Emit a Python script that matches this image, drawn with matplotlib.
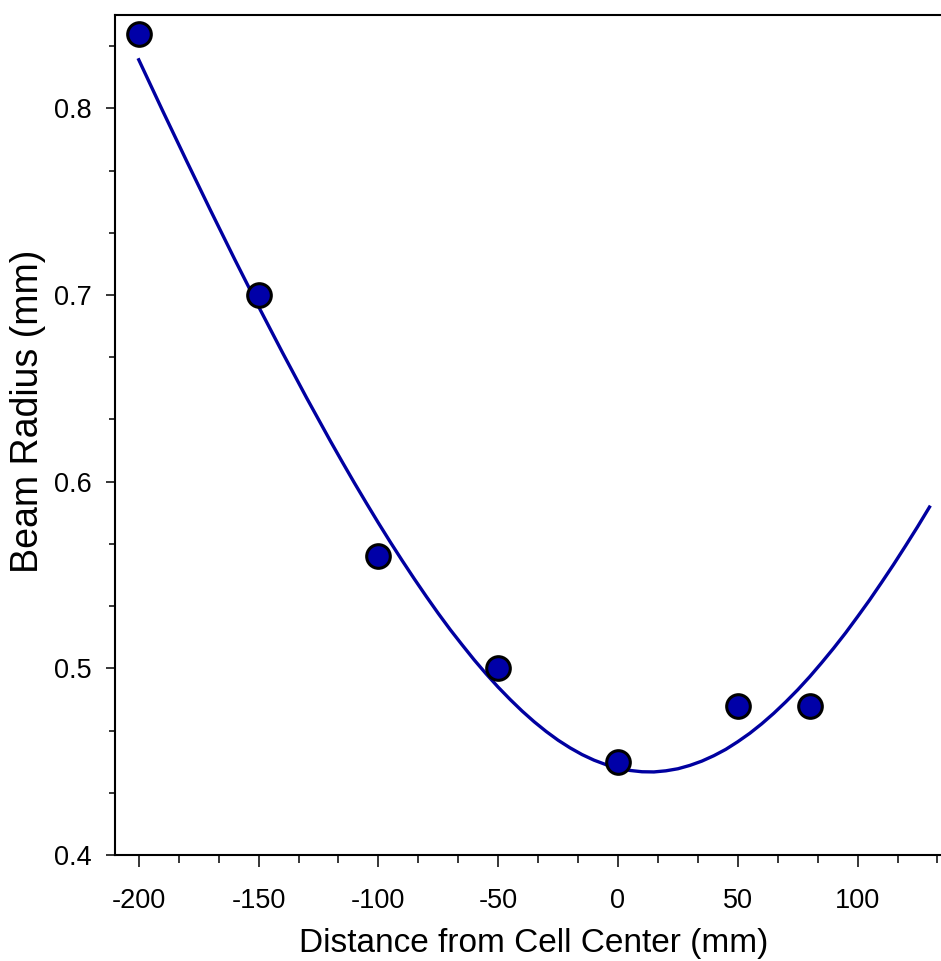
import matplotlib
matplotlib.use("Agg")
import matplotlib.pyplot as plt
from matplotlib.ticker import MultipleLocator, AutoMinorLocator

plt.rcParams['font.family'] = ['Liberation Sans', 'DejaVu Sans']

# Datos medidos
dist = [-200, -150, -100, -50, 0, 50, 80]
radius = [0.84, 0.70, 0.56, 0.50, 0.45, 0.48, 0.48]

# Curva de ajuste
fit_x = [-200, -190, -180, -170, -160, -150, -140, -130, -120,
         -115, -110, -105, -100, -95, -90, -85, -80, -75, -70, -65,
         -60, -55, -50, -45, -40, -35, -30, -25, -20, -15,
         -10, -5, 0, 5, 10, 15, 20, 25, 30, 35,
         40, 45, 50, 55, 60, 65, 70, 75, 80, 85,
         90, 95, 100, 105, 110, 115, 120, 125, 130]
fit_y = [0.8260, 0.7986, 0.7717, 0.7452, 0.7192, 0.6938, 0.6691, 0.6450, 0.6217,
         0.6104, 0.5993, 0.5885, 0.5779, 0.5676, 0.5576, 0.5479, 0.5385, 0.5294, 0.5207, 0.5125,
         0.5045, 0.4970, 0.4899, 0.4833, 0.4771, 0.4714, 0.4662, 0.4615, 0.4574, 0.4538,
         0.4508, 0.4484, 0.4465, 0.4453, 0.4446, 0.4445, 0.4451, 0.4462, 0.4480, 0.4503,
         0.4532, 0.4566, 0.4607, 0.4652, 0.4703, 0.4759, 0.4820, 0.4885, 0.4955, 0.5030,
         0.5108, 0.5190, 0.5277, 0.5366, 0.5460, 0.5556, 0.5656, 0.5758, 0.5864]

fig = plt.figure(figsize=(9.41, 9.61), dpi=100)
ax = fig.add_axes([0.122, 0.1103, 0.9167, 0.8741])

ax.plot(fit_x, fit_y, color='#0000a0', lw=2.4, zorder=2)
ax.plot(dist, radius, 'o', ms=17, mfc='#0000a8', mec='black', mew=2.2, zorder=3)

ax.set_xlim(-210, 150)
ax.set_ylim(0.4, 0.85)

ax.set_xticks([-200, -150, -100, -50, 0, 50, 100])
ax.set_xticklabels(['-200', '-150', '-100', '-50', '0', '50', '100'])
ax.xaxis.set_minor_locator(AutoMinorLocator(3))
ax.yaxis.set_major_locator(MultipleLocator(0.1))
ax.yaxis.set_minor_locator(AutoMinorLocator(3))

ax.tick_params(axis='x', which='major', direction='out', length=8.6, width=1.1, labelsize=19.5, pad=15)
ax.tick_params(axis='x', which='minor', direction='out', length=5.8, width=1.1)
ax.tick_params(axis='y', which='major', direction='out', length=6.5, width=1.1, labelsize=19.5, pad=10)
ax.tick_params(axis='y', which='minor', direction='out', length=4.3, width=1.1)

for s in ['left', 'bottom', 'top']:
    ax.spines[s].set_linewidth(1.5)
ax.spines['right'].set_visible(False)

ax.set_xlabel('Distance from Cell Center (mm)', fontsize=24)
ax.set_ylabel('Beam Radius (mm)', fontsize=27)
ax.xaxis.set_label_coords(0.486, -0.087)
ax.yaxis.set_label_coords(-0.08, 0.528)

fig.savefig('out.png', dpi=100)
